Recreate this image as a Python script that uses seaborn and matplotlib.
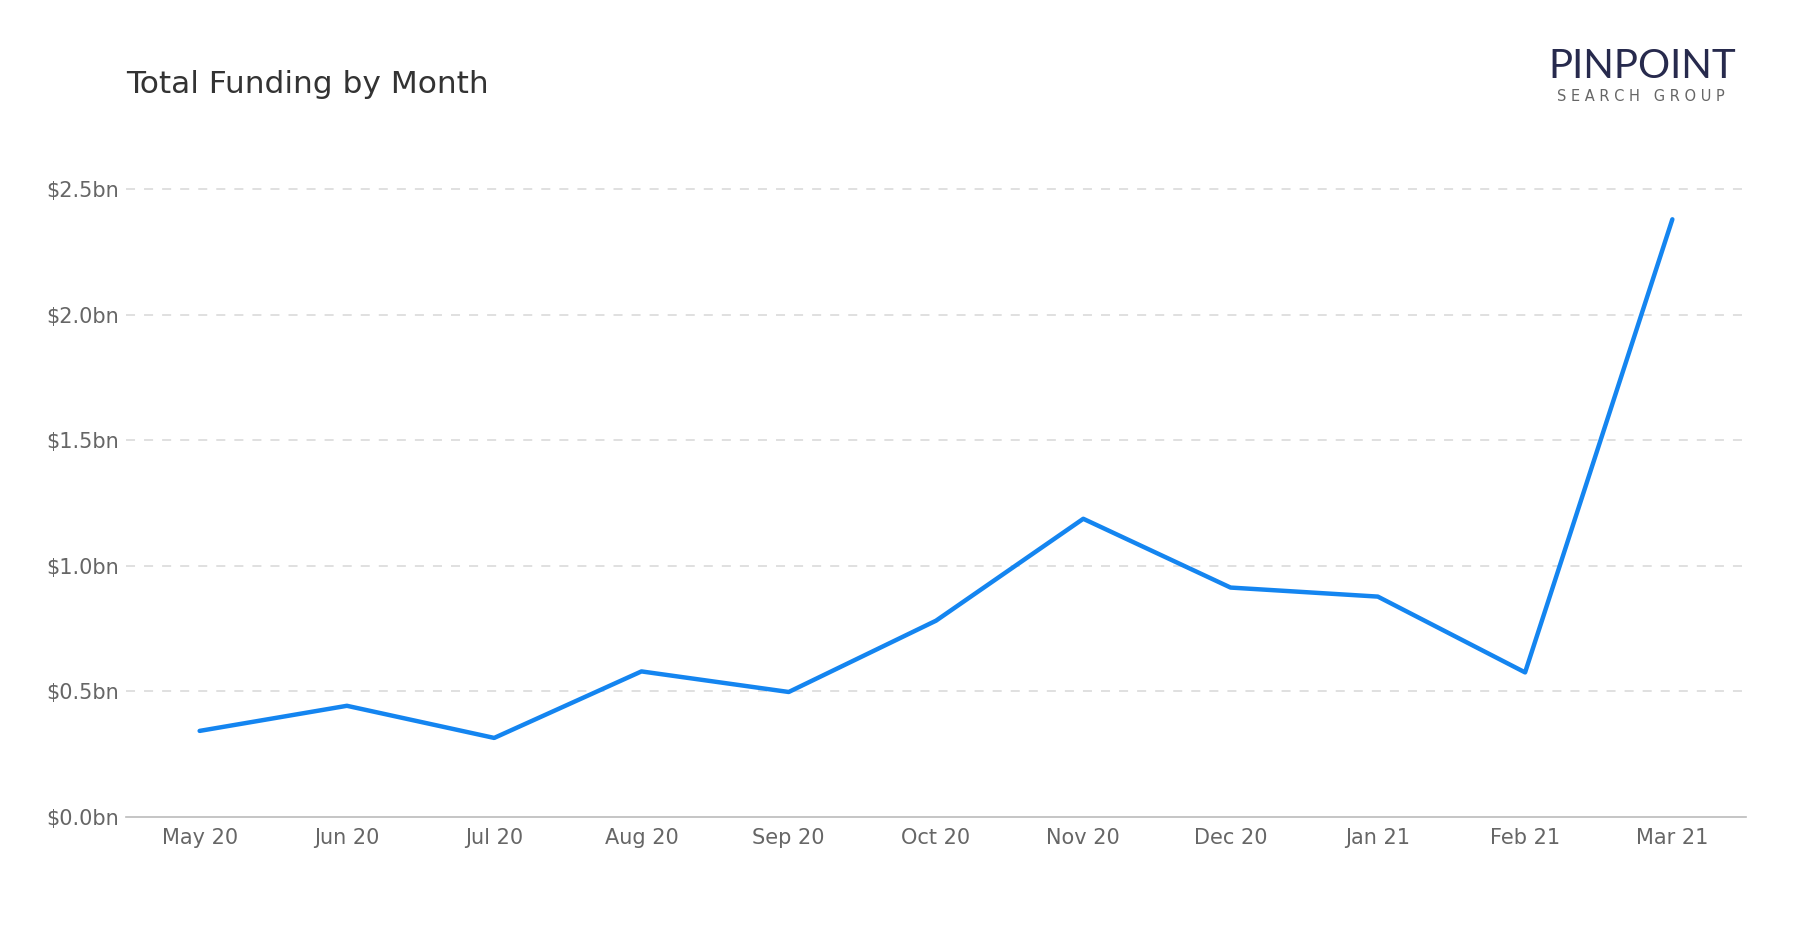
import matplotlib
matplotlib.use("Agg")
import matplotlib.pyplot as plt
import seaborn as sns
import pandas as pd

# data ($bn)
months = ["May 20", "Jun 20", "Jul 20", "Aug 20", "Sep 20", "Oct 20",
          "Nov 20", "Dec 20", "Jan 21", "Feb 21", "Mar 21"]
funding_bn = [0.343, 0.443, 0.315, 0.58, 0.498, 0.782, 1.188, 0.914, 0.878, 0.576, 2.381]
y_ticks = [0.0, 0.5, 1.0, 1.5, 2.0, 2.5]

df = pd.DataFrame({"month": months, "funding": funding_bn, "pos": range(len(months))})

sns.set_theme(style="white")
plt.rcParams["font.family"] = ["DejaVu Sans"]

fig = plt.figure(figsize=(18, 9.3), dpi=100)
ax = fig.add_axes([0.07, 0.1215, 0.90, 0.7423])

sns.lineplot(data=df, x="pos", y="funding", color="#1485f0", linewidth=3.2, ax=ax)

ax.set_xlim(-0.5, len(months) - 0.5)
ax.set_ylim(0, 2.75)
ax.set_xticks(df["pos"])
ax.set_xticklabels(months)
ax.set_yticks(y_ticks)
ax.set_yticklabels([f"${v:.1f}bn" for v in y_ticks])
ax.tick_params(axis="both", labelsize=15, colors="#666666", length=0)
ax.tick_params(axis="x", pad=8)
ax.tick_params(axis="y", pad=5)
ax.set_xlabel("")
ax.set_ylabel("")

for v in y_ticks[1:]:
    ax.axhline(v, color="#dddddd", linewidth=1.3, linestyle=(0, (5, 5)), zorder=0)

for side in ["top", "right", "left"]:
    ax.spines[side].set_visible(False)
ax.spines["bottom"].set_color("#bbbbbb")
ax.spines["bottom"].set_linewidth(1.2)

fig.text(0.07, 0.909, "Total Funding by Month", fontsize=22.5, color="#333333",
         ha="left", va="center")

# logo
fig.text(0.9125, 0.929, "PINPOINT", fontsize=29, color="#272a4d", ha="center",
         va="center", family="Lato", fontweight="normal")
fig.text(0.9115, 0.896, "S E A R C H   G R O U P", fontsize=10.5, color="#666666",
         ha="center", va="center")

fig.savefig("out.png", dpi=100)
